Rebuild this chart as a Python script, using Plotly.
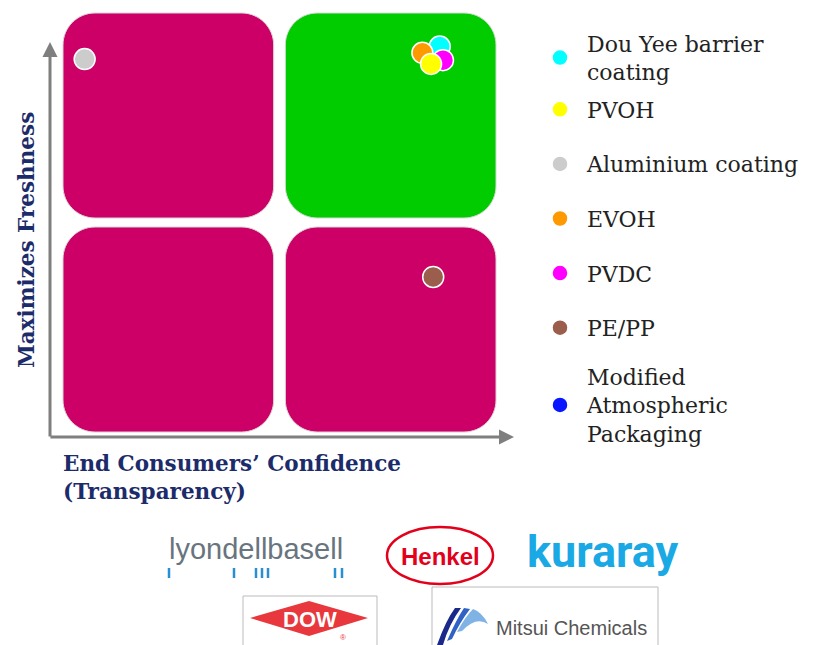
import plotly.graph_objects as go

# ---------------- data ----------------
materials = ["Dou Yee barrier<br>coating", "PVOH", "Aluminium coating", "EVOH",
             "PVDC", "PE/PP", "Modified<br>Atmospheric<br>Packaging"]
transparency = [1.74, 1.70, 0.10, 1.66, 1.755, 1.71, None]
freshness = [1.84, 1.757, 1.78, 1.81, 1.775, 0.74, None]
colors = ["#00FFFF", "#FFFF00", "#CCCCCC", "#FF9900", "#FF00FF", "#9B5E4C", "#0A16FF"]
legend_slot = ["legend", "legend2", "legend2", "legend2", "legend2", "legend2", "legend3"]
draw_order = [2, 0, 3, 4, 1, 5, 6]   # cyan under orange under magenta under yellow

quadrant_colors = [["#CC0066", "#00CC00"],   # top row: left, right
                   ["#CC0066", "#CC0066"]]   # bottom row

# ---------------- geometry helpers ----------------
OFF = 8                         # page body margin
W, H = 819 - OFF, 645 - OFF
SX, SY = 216.5, 209.5          # pixels per data unit
OX, OY = 63, 432               # screen pixel position of data origin
x_range = [(OFF - OX) / SX, (819 - OX) / SX]
y_range = [(OY - 645) / SY, (OY - OFF) / SY]


def px(x):
    return (x - OFF) / W


def py(y):
    return 1 - (y - OFF) / H


def rounded_rect(x0, x1, y0, y1, r_px=32):
    rx, ry = r_px / SX, r_px / SY
    k = 0.5523
    return (f"M {x0+rx},{y0} L {x1-rx},{y0} "
            f"C {x1-rx+k*rx},{y0} {x1},{y0+ry-k*ry} {x1},{y0+ry} "
            f"L {x1},{y1-ry} "
            f"C {x1},{y1-ry+k*ry} {x1-rx+k*rx},{y1} {x1-rx},{y1} "
            f"L {x0+rx},{y1} "
            f"C {x0+rx-k*rx},{y1} {x0},{y1-ry+k*ry} {x0},{y1-ry} "
            f"L {x0},{y0+ry} "
            f"C {x0},{y0+ry-k*ry} {x0+rx-k*rx},{y0} {x0+rx},{y0} Z")


fig = go.Figure()

for i in draw_order:
    fig.add_trace(go.Scatter(
        x=[transparency[i]], y=[freshness[i]], mode="markers", name=materials[i],
        legend=legend_slot[i], legendgroup=f"g{i}", legendrank=i + 1,
        marker=dict(size=21, color=colors[i], line=dict(color="white", width=1.5)),
        hoverinfo="name"))

shapes = []
gap = 0.027
cols = [(0, 1 - gap), (1 + gap, 2)]
rows = [(1 + 0.0215, 2), (0, 1 - 0.0215)]
for ri, (y0, y1) in enumerate(rows):
    for ci, (x0, x1) in enumerate(cols):
        shapes.append(dict(type="path", xref="x", yref="y", layer="below",
                           path=rounded_rect(x0, x1, y0, y1),
                           fillcolor=quadrant_colors[ri][ci],
                           line=dict(color="#D8D8D8", width=1)))

# ---------------- logos (drawn) ----------------
logo_blue = "#2A8FD0"
for bx in [169, 234, 256, 262, 268, 335, 342]:
    shapes.append(dict(type="line", xref="paper", yref="paper",
                       x0=px(bx), x1=px(bx), y0=py(568), y1=py(578),
                       line=dict(color=logo_blue, width=2.5)))
shapes.append(dict(type="circle", xref="paper", yref="paper",
                   x0=px(387), x1=px(493), y0=py(527), y1=py(584),
                   line=dict(color="#E2001A", width=2.5), fillcolor="white"))
shapes.append(dict(type="rect", xref="paper", yref="paper",
                   x0=px(243), x1=px(377), y0=py(596), y1=py(660),
                   line=dict(color="#BBBBBB", width=1)))
shapes.append(dict(type="path", xref="paper", yref="paper",
                   path=f"M {px(250)},{py(618)} L {px(309)},{py(601)} L {px(368)},{py(618)} "
                        f"L {px(309)},{py(636)} Z",
                   fillcolor="#E8383D", line=dict(width=0)))
shapes.append(dict(type="rect", xref="paper", yref="paper",
                   x0=px(432), x1=px(658), y0=py(587), y1=py(660),
                   line=dict(color="#BBBBBB", width=1)))
swoosh = [("#1B2A8A", f"M {px(437)},{py(645)} Q {px(446)},{py(620)} {px(455)},{py(608)} "
                      f"L {px(461)},{py(608)} Q {px(449)},{py(624)} {px(443)},{py(645)} Z"),
          ("#2F62C4", f"M {px(447)},{py(641)} Q {px(456)},{py(620)} {px(464)},{py(608)} "
                      f"L {px(470)},{py(609)} Q {px(460)},{py(622)} {px(452)},{py(639)} Z"),
          ("#7FB2E5", f"M {px(457)},{py(632)} Q {px(465)},{py(617)} {px(473)},{py(609)} "
                      f"Q {px(482)},{py(612)} {px(488)},{py(624)} "
                      f"Q {px(476)},{py(616)} {px(462)},{py(631)} Z")]
for c, p in swoosh:
    shapes.append(dict(type="path", xref="paper", yref="paper", path=p,
                       fillcolor=c, line=dict(width=0)))

annotations = []
axis_grey = "#7F7F7F"
x_axis_pos = (50 - OX) / SX
y_axis_pos = (OY - 437) / SY
# vertical and horizontal axis arrows
annotations.append(dict(x=x_axis_pos, y=(OY - 42) / SY, ax=x_axis_pos, ay=y_axis_pos - 0.005,
                        xref="x", yref="y", axref="x", ayref="y", text="", showarrow=True,
                        arrowhead=2, arrowsize=1, arrowwidth=3, arrowcolor=axis_grey))
annotations.append(dict(x=(514 - OX) / SX, y=y_axis_pos, ax=x_axis_pos - 0.005, ay=y_axis_pos,
                        xref="x", yref="y", axref="x", ayref="y", text="", showarrow=True,
                        arrowhead=2, arrowsize=1, arrowwidth=3, arrowcolor=axis_grey))

navy = "#1C2C6A"
title_font = dict(family="DejaVu Serif", size=21.5, color=navy)
annotations.append(dict(x=px(61), y=py(478), xref="paper", yref="paper",
                        text="<b>End Consumers’ Confidence<br>(Transparency)</b>",
                        showarrow=False, xanchor="left", yanchor="middle", align="left",
                        font=title_font))
annotations.append(dict(x=px(27), y=py(240), xref="paper", yref="paper",
                        text="<b>Maximizes Freshness</b>", textangle=-90,
                        showarrow=False, xanchor="center", yanchor="middle",
                        font=title_font))

# logo texts
logo_texts = [
    dict(x=px(256), y=py(549), text="lyondellbasell",
         font=dict(family="Liberation Sans, Arial", size=29, color="#68747E")),
    dict(x=px(440), y=py(556), text="<b>Henkel</b>",
         font=dict(family="Liberation Sans, Arial", size=24, color="#E2001A")),
    dict(x=px(603), y=py(551), text="<b>kuraray</b>",
         font=dict(family="Roboto, Liberation Sans", size=45, color="#1AA9E4")),
    dict(x=px(310), y=py(619), text="<b>DOW</b>",
         font=dict(family="Liberation Sans, Arial", size=22, color="white")),
    dict(x=px(343), y=py(637), text="®",
         font=dict(family="Liberation Sans, Arial", size=8, color="#E8383D")),
    dict(x=px(571), y=py(628), text="Mitsui Chemicals",
         font=dict(family="Liberation Sans Narrow, Liberation Sans", size=20, color="#555555")),
]
for a in logo_texts:
    a.update(xref="paper", yref="paper", showarrow=False, xanchor="center", yanchor="middle")
annotations += logo_texts

legend_font = dict(family="DejaVu Serif", size=22, color="#222222")
legend_common = dict(xanchor="left", yanchor="middle", font=legend_font,
                     bgcolor="rgba(0,0,0,0)", itemwidth=44)
fig.update_layout(
    width=W, height=H, margin=dict(l=0, r=0, t=0, b=0),
    paper_bgcolor="white", plot_bgcolor="white",
    xaxis=dict(range=x_range, visible=False, fixedrange=True),
    yaxis=dict(range=y_range, visible=False, fixedrange=True),
    shapes=shapes, annotations=annotations,
    legend=dict(x=px(533), y=py(58), **legend_common),
    legend2=dict(x=px(533), y=py(218.5), tracegroupgap=23, **legend_common),
    legend3=dict(x=px(533), y=py(405), **legend_common),
    showlegend=True,
)

fig.write_html("out.html")
